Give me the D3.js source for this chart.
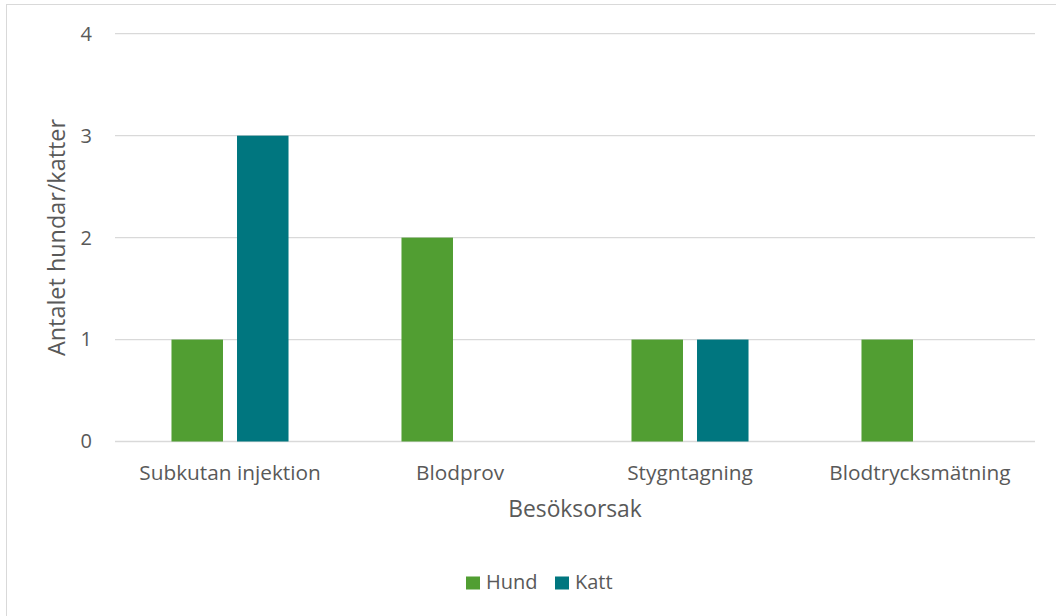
<!DOCTYPE html>
<html>
<head>
<meta charset="utf-8">
<script src="https://cdn.jsdelivr.net/npm/d3@7"></script>
<style>
  html, body { margin: 0; padding: 0; background: #fff; }
  svg { display: block; }
  text { font-family: "Open Sans", "DejaVu Sans", sans-serif; fill: #595959; }
</style>
</head>
<body>
<svg id="chart" width="1056" height="616"></svg>
<script>
// Visit reasons and counts per animal
const categories = ["Subkutan injektion", "Blodprov", "Stygntagning", "Blodtrycksmätning"];
const seriesNames = ["Hund", "Katt"];
const hund = [1, 2, 1, 1];
const katt = [3, 0, 1, 0];
const yTicks = [0, 1, 2, 3, 4];
const colors = { Hund: "#519e32", Katt: "#00767f" };

const svg = d3.select("#chart");

// Chart frame
svg.append("rect")
  .attr("x", 6.5).attr("y", 4.5)
  .attr("width", 1070).attr("height", 640)
  .attr("fill", "#fff").attr("stroke", "#d9d9d9").attr("stroke-width", 1);

const plot = { left: 115, right: 1035, top: 33.7, bottom: 441.5 };

const y = d3.scaleLinear().domain([0, 4]).range([plot.bottom, plot.top]);
const x0 = d3.scaleBand().domain(categories).range([plot.left, plot.right]).padding(0);
const x1 = d3.scaleBand().domain(seriesNames).range([0, x0.bandwidth()])
  .paddingInner(0.214).paddingOuter(0.862);

// Gridlines
svg.append("g").selectAll("line").data(yTicks).join("line")
  .attr("x1", plot.left).attr("x2", plot.right)
  .attr("y1", d => y(d)).attr("y2", d => y(d))
  .attr("stroke", "#d9d9d9").attr("stroke-width", 1.3);

// Y axis labels
const yAxis = d3.axisLeft(y).tickValues(yTicks).tickSize(0).tickPadding(0).tickFormat(d3.format("d"));
const yg = svg.append("g").attr("transform", `translate(92,0)`).call(yAxis);
yg.select(".domain").remove();
yg.selectAll("text").attr("font-size", 20).attr("fill", "#595959")
  .style("font-family", "'Open Sans', sans-serif");

// Bars
const rows = categories.map((c, i) => ({ cat: c, values: [
  { key: "Hund", value: hund[i] }, { key: "Katt", value: katt[i] }
]}));
const groups = svg.append("g").selectAll("g").data(rows).join("g")
  .attr("transform", d => `translate(${x0(d.cat)},0)`);
groups.selectAll("rect").data(d => d.values.filter(v => v.value > 0)).join("rect")
  .attr("x", d => x1(d.key))
  .attr("width", x1.bandwidth())
  .attr("y", d => y(d.value))
  .attr("height", d => y(0) - y(d.value))
  .attr("fill", d => colors[d.key]);

// X axis labels
const xAxis = d3.axisBottom(x0).tickSize(0).tickPadding(0);
const xg = svg.append("g").attr("transform", `translate(0,${plot.bottom})`).call(xAxis);
xg.select(".domain").remove();
xg.selectAll("text").attr("font-size", 20.8).attr("fill", "#595959")
  .attr("dy", null).attr("y", 38.5)
  .style("font-family", "'Open Sans', sans-serif");

// Axis titles
svg.append("text")
  .attr("x", (plot.left + plot.right) / 2).attr("y", 517)
  .attr("text-anchor", "middle").attr("font-size", 22.8)
  .text("Besöksorsak");

svg.append("text")
  .attr("transform", "translate(65,237.5) rotate(-90)")
  .attr("text-anchor", "middle").attr("font-size", 23.4)
  .text("Antalet hundar/katter");

// Legend
const legendItems = [{ key: "Hund", x: 466 }, { key: "Katt", x: 555 }];
const lg = svg.append("g");
lg.selectAll("rect").data(legendItems).join("rect")
  .attr("x", d => d.x).attr("y", 576.5)
  .attr("width", 14).attr("height", 13)
  .attr("fill", d => colors[d.key]);
lg.selectAll("text").data(legendItems).join("text")
  .attr("x", d => d.x + 20).attr("y", 589)
  .attr("font-size", 20)
  .text(d => d.key);
</script>
</body>
</html>
